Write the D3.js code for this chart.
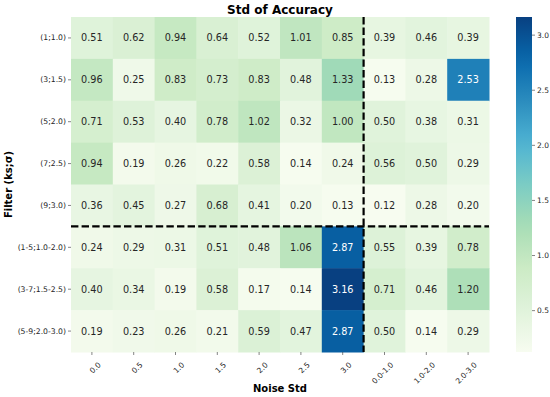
<!DOCTYPE html>
<html><head><meta charset="utf-8">
<script src="https://cdn.jsdelivr.net/npm/d3@7"></script>
<style>body{margin:0;background:#fff;} svg{display:block;font-family:"DejaVu Sans",sans-serif;}</style>
</head><body>
<svg id="c" width="550" height="397"></svg>
<script>
const xLabels = ["0.0","0.5","1.0","1.5","2.0","2.5","3.0","0.0-1.0","1.0-2.0","2.0-3.0"];
const yLabels = ["(1;1.0)","(3;1.5)","(5;2.0)","(7;2.5)","(9;3.0)","(1-5;1.0-2.0)","(3-7;1.5-2.5)","(5-9;2.0-3.0)"];
const values = [
  [0.51,0.62,0.94,0.64,0.52,1.01,0.85,0.39,0.46,0.39],
  [0.96,0.25,0.83,0.73,0.83,0.48,1.33,0.13,0.28,2.53],
  [0.71,0.53,0.40,0.78,1.02,0.32,1.00,0.50,0.38,0.31],
  [0.94,0.19,0.26,0.22,0.58,0.14,0.24,0.56,0.50,0.29],
  [0.36,0.45,0.27,0.68,0.41,0.20,0.13,0.12,0.28,0.20],
  [0.24,0.29,0.31,0.51,0.48,1.06,2.87,0.55,0.39,0.78],
  [0.40,0.34,0.19,0.58,0.17,0.14,3.16,0.71,0.46,1.20],
  [0.19,0.23,0.26,0.21,0.59,0.47,2.87,0.50,0.14,0.29]
];
const cbTicks = [0.5,1.0,1.5,2.0,2.5,3.0];
const title = "Std of Accuracy";
const xTitle = "Noise Std";
const yTitle = "Filter (ks;σ)";

const FONT = "DejaVu Sans";
const svg = d3.select("#c");
const L=71, R=489, T=17, B=352;
const flat = values.flat();
const vmin = d3.min(flat), vmax = d3.max(flat);
const interp = d3.piecewise(d3.interpolateRgb, d3.schemeGnBu[9]);
const color = v => interp((v - vmin)/(vmax - vmin));

const x = d3.scaleBand().domain(xLabels).range([L,R]);
const y = d3.scaleBand().domain(yLabels).range([T,B]);

const cells = [];
values.forEach((row,i)=>row.forEach((v,j)=>cells.push({r:yLabels[i],c:xLabels[j],v})));

svg.append("g").selectAll("rect").data(cells).join("rect")
  .attr("x",d=>x(d.c)).attr("y",d=>y(d.r))
  .attr("width",x.bandwidth()+0.5).attr("height",y.bandwidth()+0.5)
  .attr("fill",d=>color(d.v));

function lum(c){const o=d3.rgb(c);const f=u=>{u/=255;return u<=0.03928?u/12.92:Math.pow((u+0.055)/1.055,2.4);};return 0.2126*f(o.r)+0.7152*f(o.g)+0.0722*f(o.b);}
svg.append("g").selectAll("text").data(cells).join("text")
  .attr("x",d=>x(d.c)+x.bandwidth()/2).attr("y",d=>y(d.r)+y.bandwidth()/2)
  .attr("text-anchor","middle").attr("dominant-baseline","central")
  .attr("font-size","9.7px")
  .attr("fill",d=>lum(color(d.v))<0.408?"#ffffff":"#262626")
  .text(d=>d.v.toFixed(2));

// dashed separators
svg.append("line").attr("x1",L).attr("x2",R).attr("y1",y(yLabels[5])).attr("y2",y(yLabels[5]))
  .attr("stroke","#000").attr("stroke-width",2.2).attr("stroke-dasharray","7.4,3.2");
svg.append("line").attr("x1",x(xLabels[7])).attr("x2",x(xLabels[7])).attr("y1",T).attr("y2",B)
  .attr("stroke","#000").attr("stroke-width",2.2).attr("stroke-dasharray","7.4,3.2");

// axes
const xAxis = svg.append("g").attr("transform",`translate(0,${B})`)
  .call(d3.axisBottom(x).tickSize(3).tickPadding(2)).attr("font-family",FONT);
xAxis.select(".domain").remove();
xAxis.selectAll(".tick line").attr("stroke","#333").attr("stroke-width",0.6);
xAxis.selectAll("text").attr("font-size","7.5px").attr("fill","#262626")
  .attr("text-anchor","end").attr("dy","0.35em")
  .attr("transform","translate(4,8) rotate(-45)");

const yAxis = svg.append("g").attr("transform",`translate(${L},0)`)
  .call(d3.axisLeft(y).tickSize(3).tickPadding(2)).attr("font-family",FONT);
yAxis.select(".domain").remove();
yAxis.selectAll(".tick line").attr("stroke","#333").attr("stroke-width",0.6);
yAxis.selectAll("text").attr("font-size","7.7px").attr("fill","#262626");

// titles
svg.append("text").attr("x",(L+R)/2).attr("y",13.5).attr("text-anchor","middle")
  .attr("font-size","12px").attr("font-weight","bold").attr("fill","#000").text(title);
svg.append("text").attr("x",(L+R)/2).attr("y",392).attr("text-anchor","middle")
  .attr("font-size","10px").attr("font-weight","bold").attr("fill","#000").text(xTitle);
svg.append("text").attr("transform",`translate(12,${(T+B)/2}) rotate(-90)`).attr("text-anchor","middle")
  .attr("font-size","10px").attr("font-weight","bold").attr("fill","#000").text(yTitle);

// colorbar
const cbX=516, cbW=16;
const cy = d3.scaleLinear().domain([vmin,vmax]).range([B,T]);
const defs = svg.append("defs");
const grad = defs.append("linearGradient").attr("id","cbg").attr("x1",0).attr("y1",1).attr("x2",0).attr("y2",0);
d3.range(0,1.0001,0.05).forEach(t=>grad.append("stop").attr("offset",t).attr("stop-color",interp(t)));
svg.append("rect").attr("x",cbX).attr("y",T).attr("width",cbW).attr("height",B-T).attr("fill","url(#cbg)");
const cAxis = svg.append("g").attr("transform",`translate(${cbX+cbW},0)`)
  .call(d3.axisRight(cy).tickValues(cbTicks).tickFormat(d3.format(".1f")).tickSize(3).tickPadding(2)).attr("font-family",FONT);
cAxis.select(".domain").remove();
cAxis.selectAll(".tick line").attr("stroke","#333").attr("stroke-width",0.6);
cAxis.selectAll("text").attr("font-size","7.5px").attr("fill","#262626");
</script>
</body></html>
